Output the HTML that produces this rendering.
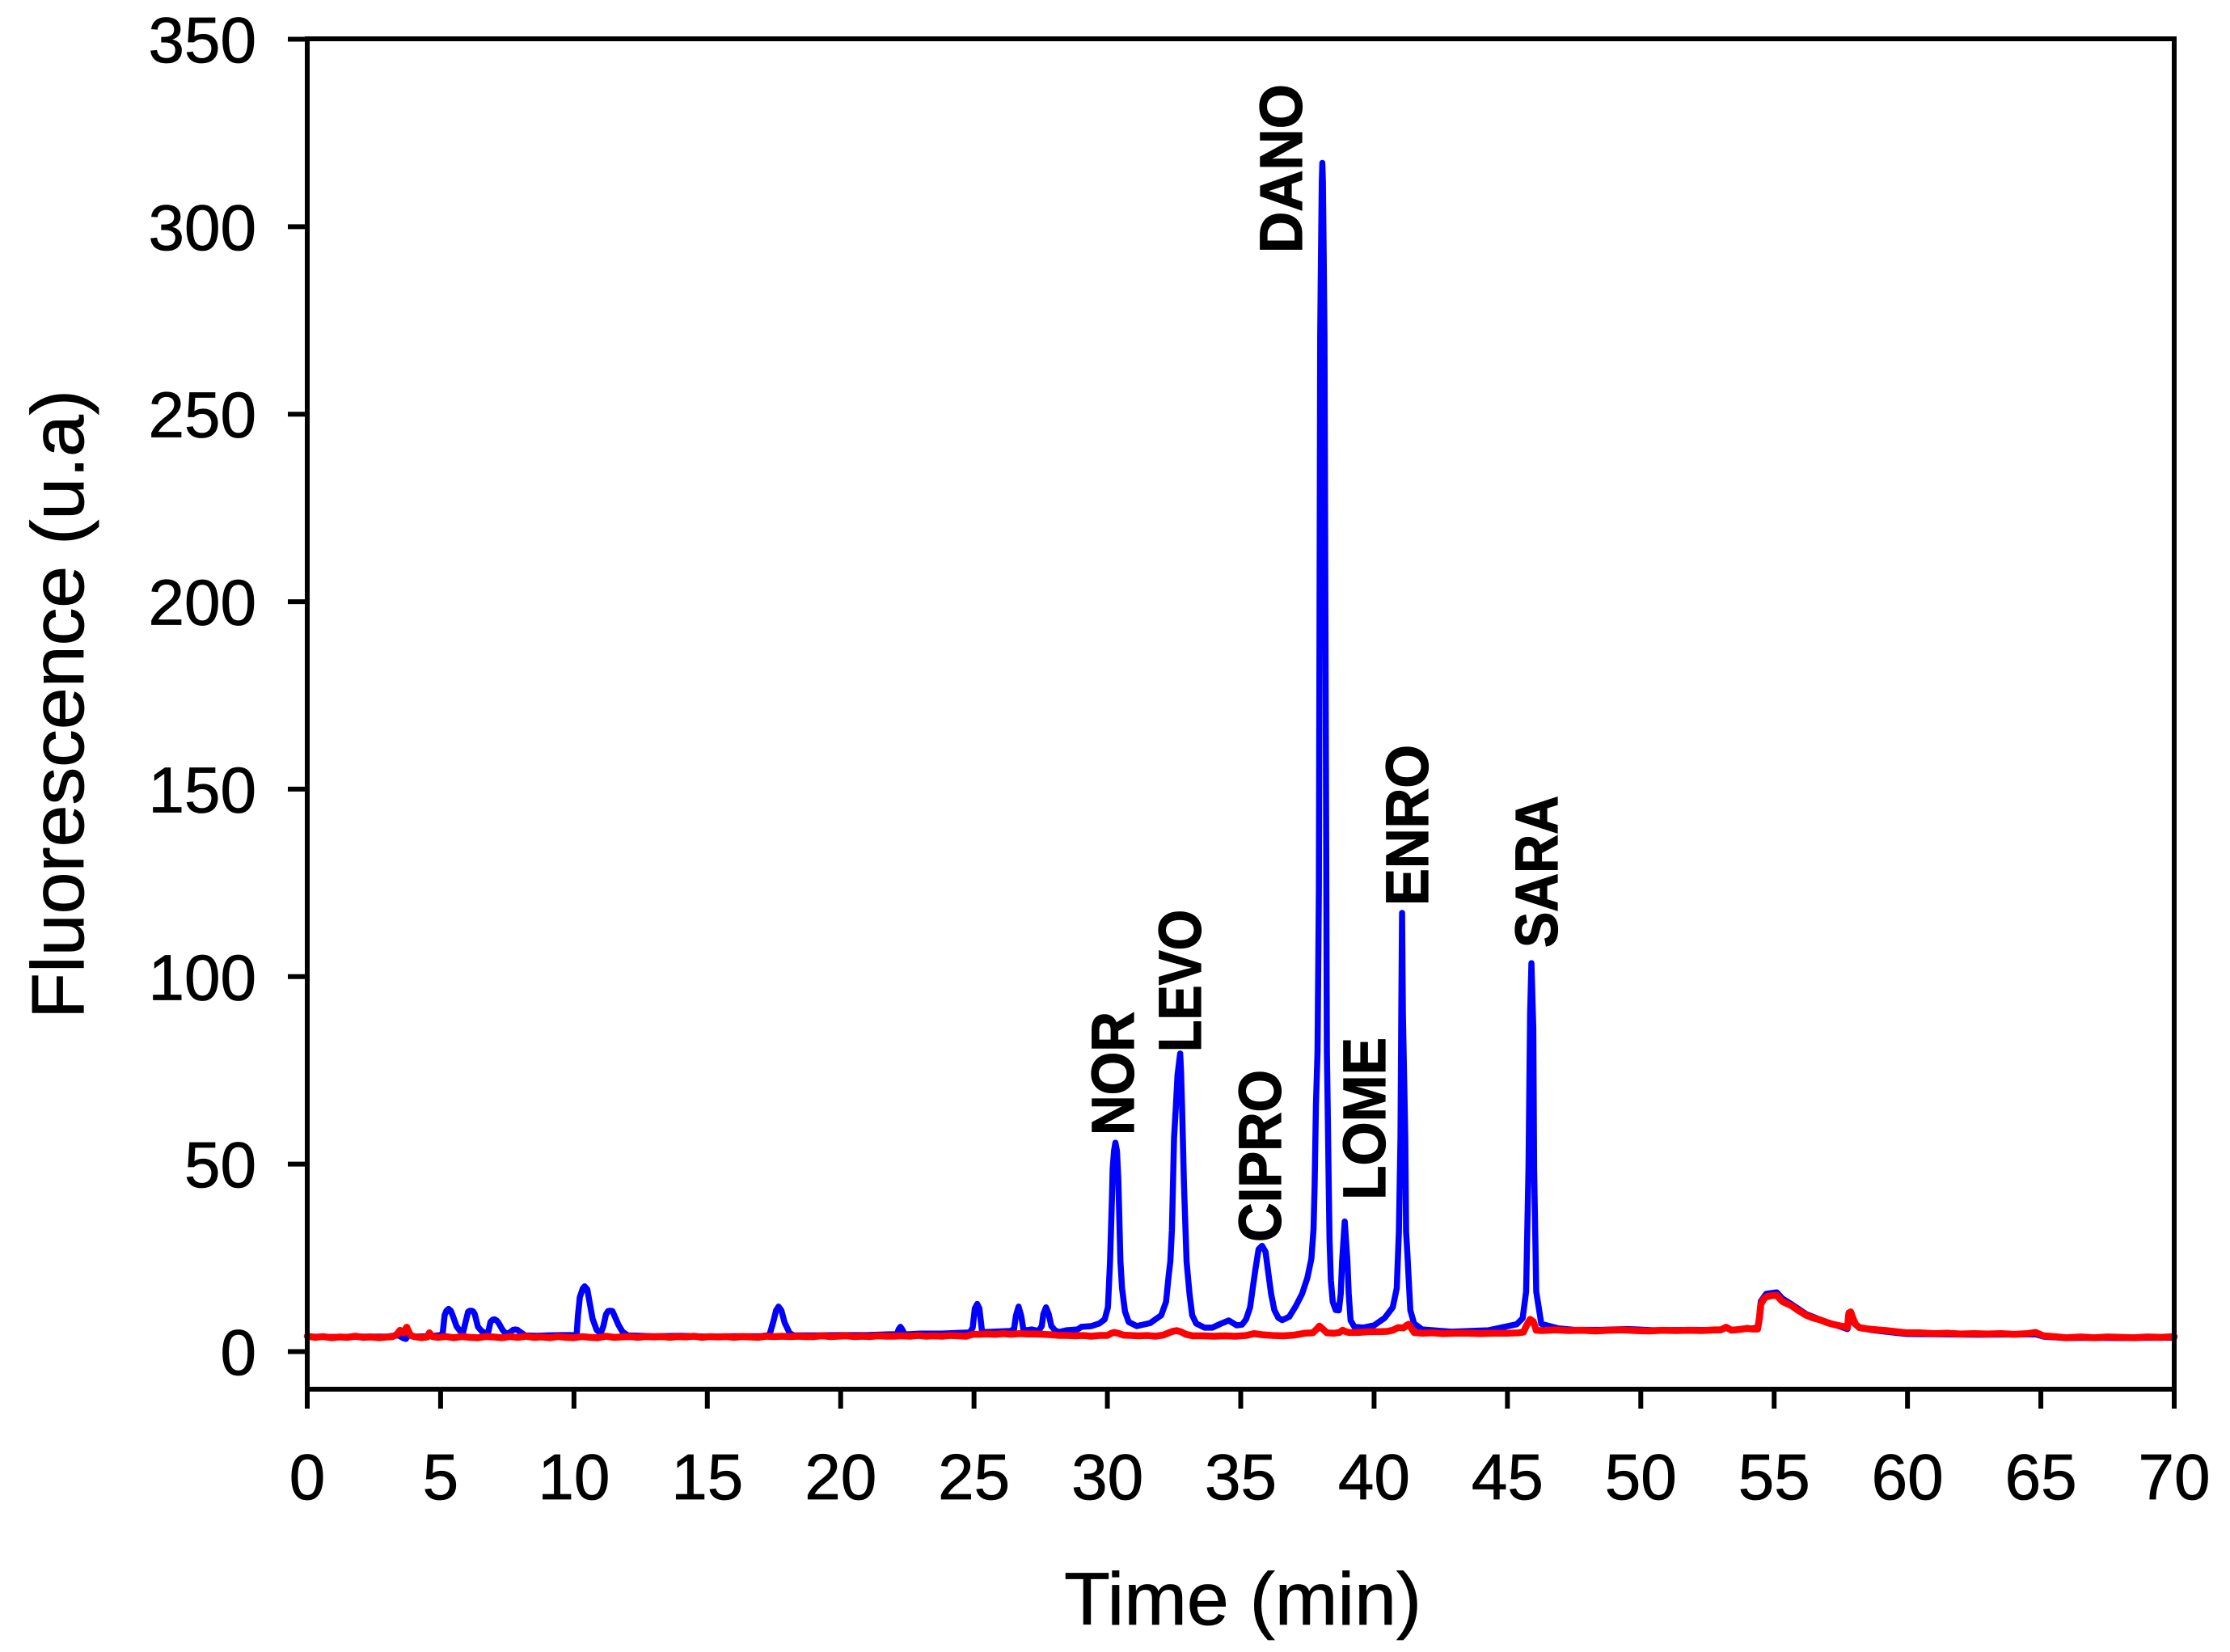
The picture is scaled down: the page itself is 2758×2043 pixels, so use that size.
<!DOCTYPE html>
<html lang="en">
<head>
<meta charset="utf-8">
<title>Fluorescence chromatogram</title>
<style>
html,body{margin:0;padding:0;background:#fff;}
svg{display:block;font-family:"Liberation Sans",Arial,sans-serif;}
text{fill:#000;stroke:#000;stroke-width:0.8px;}
.peak{font-weight:700;font-size:74px;stroke-width:1.2px;}
</style>
</head>
<body>
<svg id="chart" xmlns="http://www.w3.org/2000/svg" width="2758" height="2043" viewBox="0 0 2758 2043">
  <rect x="0" y="0" width="2758" height="2043" fill="#ffffff"/>
  <g id="series"></g>
  <g id="axes"></g>
  <text transform="translate(103 1260) rotate(-90)" font-size="92" textLength="778" lengthAdjust="spacingAndGlyphs">Fluorescence (u.a)</text>
  <text x="1316" y="2009" font-size="92" textLength="442" lengthAdjust="spacingAndGlyphs">Time (min)</text>
  <text class="peak" transform="translate(1402 1404) rotate(-90)" textLength="153" lengthAdjust="spacingAndGlyphs">NOR</text>
  <text class="peak" transform="translate(1485 1301) rotate(-90)" textLength="176" lengthAdjust="spacingAndGlyphs">LEVO</text>
  <text class="peak" transform="translate(1584 1536) rotate(-90)" textLength="213" lengthAdjust="spacingAndGlyphs">CIPRO</text>
  <text class="peak" transform="translate(1610 313) rotate(-90)" textLength="209" lengthAdjust="spacingAndGlyphs">DANO</text>
  <text class="peak" transform="translate(1713 1484) rotate(-90)" textLength="201" lengthAdjust="spacingAndGlyphs">LOME</text>
  <text class="peak" transform="translate(1766 1120) rotate(-90)" textLength="199" lengthAdjust="spacingAndGlyphs">ENRO</text>
  <text class="peak" transform="translate(1926 1172) rotate(-90)" textLength="188" lengthAdjust="spacingAndGlyphs">SARA</text>
</svg>
<script>
const xTickLabels = [0,5,10,15,20,25,30,35,40,45,50,55,60,65,70];
const yTickLabels = [0,50,100,150,200,250,300,350];

const blueTimes = [
0,1,2,3,3.4,3.6,3.7,3.8,4,4.6,
5.0,5.08,5.15,5.22,5.3,5.38,5.45,5.6,5.72,5.84,
5.94,6.03,6.1,6.16,6.22,6.28,6.4,6.55,6.67,6.79,
6.87,6.95,7.02,7.1,7.17,7.32,7.47,7.63,7.72,7.8,
7.88,7.97,8.18,8.6,9,9.5,10.1,10.15,10.22,10.33,
10.4,10.5,10.6,10.7,10.85,11.0,11.1,11.2,11.28,11.36,
11.44,11.5,11.67,11.82,12.02,13,14,15,16,17,
17.33,17.48,17.58,17.67,17.78,17.9,18.08,18.23,19,20,
21,21.8,22.1,22.18,22.24,22.3,22.4,22.5,23,23.8,
24.4,24.85,24.95,25.03,25.12,25.2,25.3,25.4,26,26.36,
26.5,26.57,26.67,26.77,26.85,26.97,27.17,27.42,27.54,27.6,
27.7,27.8,27.9,28.03,28.18,28.48,28.88,29.03,29.4,29.7,
29.9,30.02,30.1,30.17,30.2,30.25,30.3,30.36,30.41,30.45,
30.49,30.55,30.66,30.8,31.1,31.6,32.02,32.2,32.3,32.36,
32.42,32.5,32.57,32.63,32.73,32.76,32.8,32.87,32.97,33.08,
33.18,33.33,33.64,33.94,34.24,34.55,34.85,35.05,35.2,35.35,
35.45,35.55,35.67,35.8,35.93,36.03,36.14,36.26,36.41,36.56,
36.82,37.07,37.3,37.5,37.65,37.73,37.77,37.82,37.88,37.93,
37.98,38.01,38.04,38.06,38.08,38.11,38.14,38.21,38.23,38.26,
38.3,38.33,38.38,38.45,38.56,38.68,38.75,38.8,38.9,39,
39.05,39.12,39.26,39.6,40,40.4,40.7,40.85,40.93,40.99,
41.02,41.05,41.08,41.17,41.2,41.25,41.3,41.36,41.5,41.8,
42.9,44.3,45.35,45.57,45.7,45.79,45.85,45.9,45.97,46,
46.08,46.27,46.9,47.5,48.5,49.5,50.5,52,53,53.2,
53.4,54.2,54.4,54.45,54.5,54.7,55.1,55.3,55.66,56.2,
56.7,57.2,57.67,57.75,57.8,57.87,58,58.2,58.7,59.7,
60,62.65,64.8,65.1,65.96,67,68,69,70
];
const blueValues = [
4,3.9,4,4,4.4,3.6,3.4,4.4,4,4.1,
4.4,5.0,9.7,10.9,11.4,10.9,9.7,6.7,5.6,5.0,
8.0,10.6,10.9,10.9,10.7,10.0,6.6,5.4,5.0,5.3,
7.9,8.5,8.6,8.3,7.7,5.8,4.6,5.3,5.8,5.9,
5.8,5.3,4.3,4.2,4.3,4.4,4.4,9.7,14.5,16.8,
17.4,16.6,12.6,8.7,5.8,4.8,6.7,9.9,10.8,10.9,
10.8,9.9,7.1,5.3,4.3,4.1,4.2,4.0,4.1,4.1,
4.4,8.1,11,12,10.9,7.7,5,4.3,4.3,4.4,
4.4,4.6,4.6,6.0,6.6,6.0,4.6,4.6,4.8,4.8,
5.0,5.1,6.4,11.5,12.7,11.5,5.4,5.2,5.4,5.5,
6,9.5,12,9.5,5.9,5.7,5.9,5.5,6.8,10,
11.8,10,6.8,5.7,5.2,5.7,5.9,6.6,6.8,7.5,
8.6,11.8,24,40.6,49,53.5,55.7,53.5,46,35,
24,16.9,10.7,7.9,6.8,7.6,9.7,13.3,20.4,24,
32.4,57,65.5,73.7,79.5,75,65.5,45,24,15.4,
9.7,7.5,6.4,6.4,7.4,8.3,7,7.2,8.6,11.8,
16.9,21.9,27.3,28.2,26.6,21.2,15.4,11.1,9,8.4,
9.3,12.2,15.4,19.7,24.8,32.7,44,65.7,80,123,
271,293,312,317,312,293,271,123,80,65.7,
44,29.8,19,13.3,11.1,11,15.4,24,34.7,24,
15.4,8.3,6.6,6.4,7,9,11.8,16.9,32,57,
90,117,90,57,32,26,19,11,7.5,5.9,
5.3,5.7,7.3,8.9,16,49,90,103.6,86,49,
16,7.4,6.2,5.8,5.8,6,5.7,5.8,5.7,6.3,
5.8,6.2,6.5,10,13.4,15.4,15.8,14.2,12.6,10,
8.6,7.3,6.2,6,10.4,10.5,7.5,6.3,5.7,4.9,
4.7,4.5,4.6,4,3.6,3.7,3.6,3.7,3.7
];

const redTimes = [
0,.3,.6,.9,1.2,1.5,1.8,2.1,2.4,2.7,
3.0,3.2,3.35,3.48,3.6,3.73,3.85,3.95,4.1,4.3,
4.5,4.58,4.7,4.9,5.2,5.5,5.8,6.1,6.4,6.7,
7,7.3,7.6,7.9,8.2,8.5,8.8,9.1,9.4,9.7,
10,10.3,10.6,10.9,11.2,11.5,11.8,12.1,12.4,12.7,
13,13.3,13.6,13.9,14.2,14.5,14.8,15.1,15.4,15.7,
16,16.3,16.6,16.9,17.2,17.5,17.8,18.1,18.4,18.7,
19,19.3,19.6,19.9,20.2,20.5,20.8,21.1,21.4,21.7,
22,22.3,22.6,22.9,23.2,23.5,23.8,24.1,24.4,24.7,
24.95,25.2,25.5,25.8,26.1,26.4,26.7,27,27.3,27.6,
27.9,28.2,28.5,28.8,29.1,29.4,29.7,30,30.15,30.25,
30.4,30.6,30.9,31.2,31.5,31.8,32.1,32.3,32.45,32.6,
32.75,32.95,33.2,33.6,34,34.4,34.8,35.2,35.5,35.8,
36.2,36.6,37,37.4,37.7,37.85,37.95,38.08,38.23,38.5,
38.7,38.82,38.95,39.05,39.4,39.8,40.2,40.5,40.7,40.9,
41.1,41.22,41.3,41.4,41.5,41.8,42.2,42.6,43,43.5,
44,44.5,45,45.4,45.6,45.72,45.85,45.97,46.08,46.3,
46.8,47.3,47.8,48.3,48.8,49.3,49.8,50.3,50.8,51.3,
51.8,52.3,52.8,53.0,53.2,53.4,53.7,54.0,54.2,54.38,
54.45,54.5,54.6,54.7,54.9,55.1,55.3,55.66,55.9,56.2,
56.45,56.7,57,57.2,57.45,57.67,57.75,57.8,57.87,57.95,
58.05,58.2,58.45,58.7,59.2,59.7,60,60.5,61,61.5,
62,62.5,63,63.5,64,64.5,64.8,65.1,65.5,65.96,
66.5,67,67.5,68,68.5,69,69.5,70
];
const redValues = [
4.1,3.8,4.0,3.7,3.9,3.8,4.1,3.8,3.9,3.7,
3.9,4.0,4.5,5.7,5.0,6.5,4.6,4.1,3.9,3.7,
3.9,5.0,4.0,3.8,4.0,3.7,4.0,3.8,3.7,4.0,
3.9,3.7,4.0,3.8,4.1,3.8,3.9,3.7,4.0,3.8,
3.7,4.0,3.8,3.7,4.1,3.8,3.9,4.0,3.8,4.0,
3.9,4.0,3.8,4.0,3.9,4.1,3.8,4.0,3.9,4.0,
3.8,4.0,3.9,3.8,4.1,4.0,4.1,4.0,4.1,4.0,
4.0,4.2,4.0,4.1,4.2,4.0,4.1,4.0,4.2,4.1,
4.1,4.2,4.1,4.3,4.1,4.2,4.1,4.3,4.2,4.1,
4.6,4.6,4.7,4.6,4.8,4.6,4.8,4.7,4.7,4.6,
4.5,4.3,4.3,4.2,4.3,4.1,4.3,4.3,4.9,5.1,
4.9,4.4,4.3,4.2,4.3,4.1,4.4,5.0,5.4,5.6,
5.3,4.6,4.2,4.2,4.1,4.2,4.1,4.3,4.8,4.5,
4.3,4.2,4.4,4.9,5.0,6.0,6.8,6.0,5.0,4.9,
5.1,5.7,5.3,5.1,5.1,5.3,5.3,5.4,5.7,6.4,
6.3,7.0,7.3,6.2,5.1,4.9,5.0,4.8,4.9,4.9,
4.8,4.9,4.9,5.0,5.2,7.0,8.6,8.0,5.7,5.6,
5.8,5.6,5.7,5.5,5.7,5.8,5.6,5.5,5.7,5.6,
5.7,5.6,5.8,5.8,6.5,5.7,5.9,6.2,6.0,6.0,
9.0,12.6,13.9,14.6,14.9,15.0,13.4,12.2,11.0,9.7,
9.0,8.5,7.7,7.3,6.9,6.6,6.4,10.2,10.6,9.0,
7.3,6.4,6.1,5.9,5.6,5.2,5.0,5.0,4.8,4.9,
4.7,4.8,4.7,4.8,4.6,4.8,5.1,4.2,4.0,3.7,
3.9,3.7,3.9,3.8,3.7,3.9,3.8,4.0
];

const NS = 'http://www.w3.org/2000/svg';
function xPos(t){ return 380 + t * (2689 - 380) / 70; }
function yPos(v){ return 1671.5 - v * (1671.5 - 48.5) / 350; }

const axes = document.getElementById('axes');
const series = document.getElementById('series');

function addLine(x1,y1,x2,y2,w){
  const l = document.createElementNS(NS,'line');
  l.setAttribute('x1',x1); l.setAttribute('y1',y1);
  l.setAttribute('x2',x2); l.setAttribute('y2',y2);
  l.setAttribute('stroke','#000');
  l.setAttribute('stroke-width',w);
  axes.appendChild(l);
  return l;
}
function addLabel(x,y,anchor,str){
  const t = document.createElementNS(NS,'text');
  t.setAttribute('x',x); t.setAttribute('y',y);
  t.setAttribute('text-anchor',anchor);
  t.setAttribute('font-size','80');
  t.textContent = str;
  axes.appendChild(t);
  return t;
}

function addSeries(times, values, color, width){
  const p = document.createElementNS(NS,'polyline');
  const pts = [];
  for (let i = 0; i < times.length; i++) {
    pts.push(xPos(times[i]).toFixed(2) + ',' + yPos(values[i]).toFixed(2));
  }
  p.setAttribute('points', pts.join(' '));
  p.setAttribute('fill','none');
  p.setAttribute('stroke',color);
  p.setAttribute('stroke-width',width);
  p.setAttribute('stroke-linejoin','round');
  p.setAttribute('stroke-linecap','round');
  series.appendChild(p);
  return p;
}
const blueLine = addSeries(blueTimes, blueValues, '#0000ff', 7.5);


const redLine = addSeries(redTimes, redValues, '#ff0000', 8.5);



const frameLeft = addLine(380,45,380,1721,6);


const frameRight = addLine(2689,45,2689,1721,6);


const frameTop = addLine(377,48,2692,48,6);


const frameBottom = addLine(377,1718,2692,1718,6);



xTickLabels.forEach(function(v){
  const tick = addLine(xPos(v),1718,xPos(v),1742,6);
  
  
  const label = addLabel(xPos(v),1854,'middle',String(v));
  
  
});
yTickLabels.forEach(function(v){
  const tick = addLine(356,yPos(v),380,yPos(v),6);
  
  
  const label = addLabel(317,yPos(v)+28.5,'end',String(v));
  
  
});
</script>
</body>
</html>
